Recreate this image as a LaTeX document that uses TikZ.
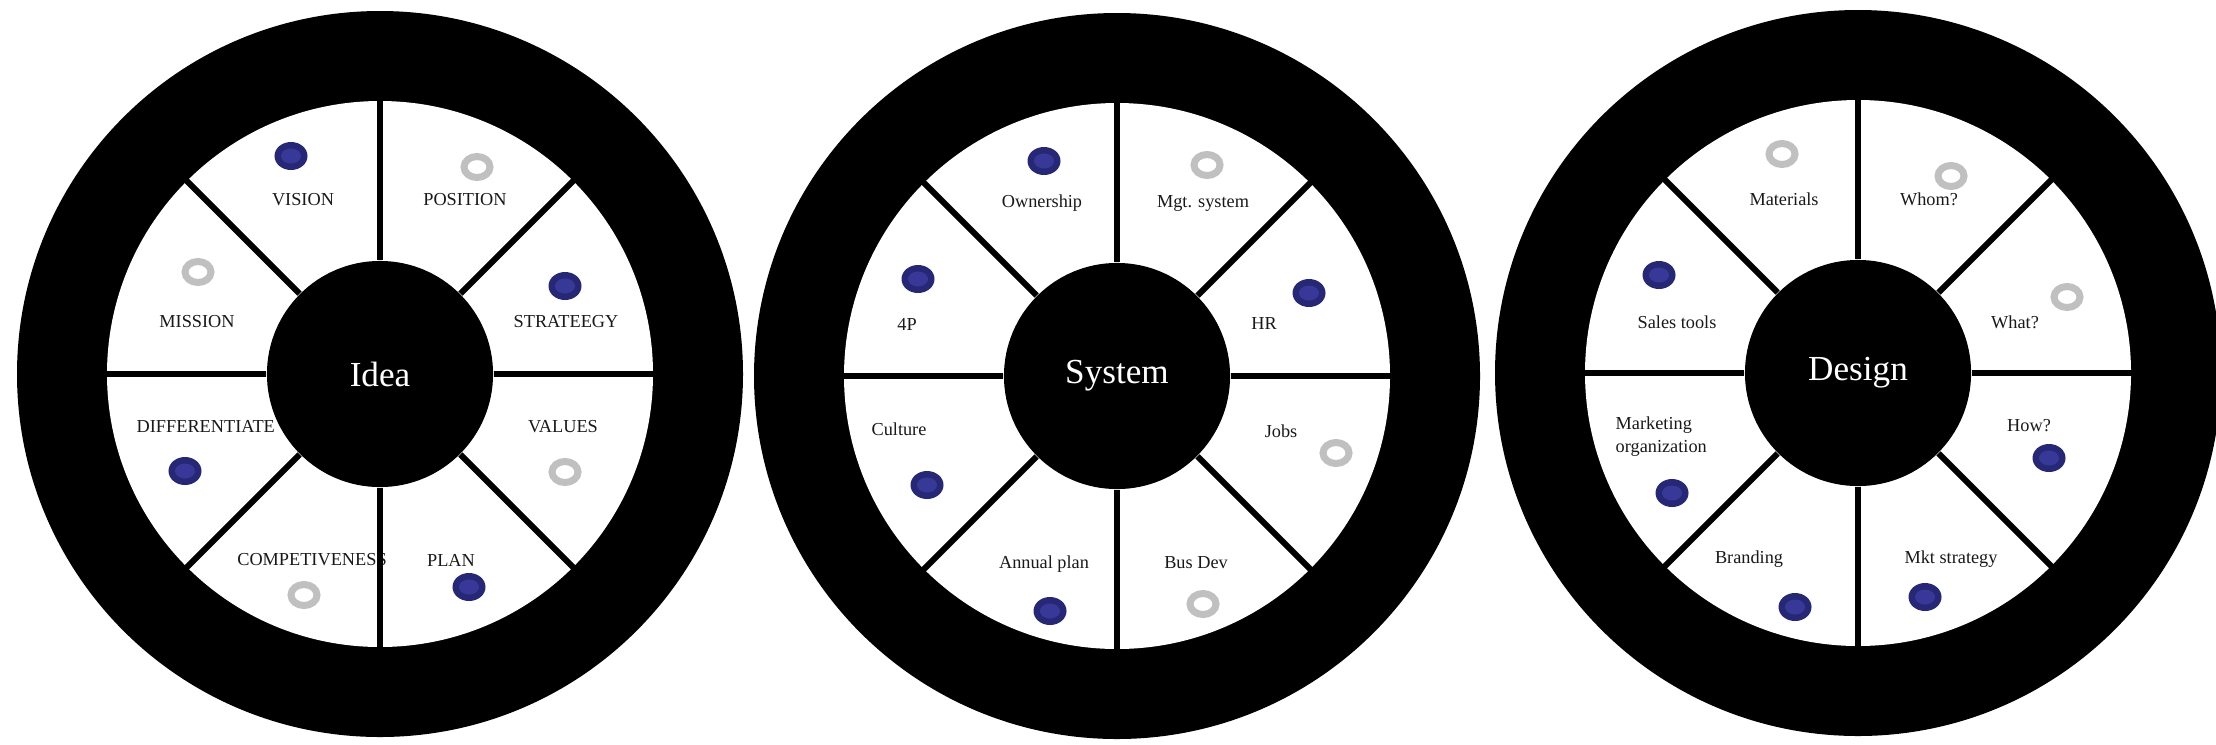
\documentclass[tikz,border=0pt]{standalone}
\usepackage{fontspec}
\setmainfont{Liberation Serif}
\usetikzlibrary{shapes.geometric}

\definecolor{dotrim}{RGB}{38,40,118}
\definecolor{dotcore}{RGB}{56,56,152}
\definecolor{ringgrey}{RGB}{192,192,192}
\definecolor{inkgrey}{RGB}{25,25,25}

\begin{document}
\begin{tikzpicture}[x=0.01cm, y=0.01cm]
    \tikzstyle{hub}=[circle,fill=black,text=white,minimum size=2.26cm,inner sep=0pt,font=\fontsize{10}{12}\selectfont]
    \tikzstyle{lbl}=[inner sep=0pt,text=inkgrey,font=\fontsize{5.2}{6.6}\selectfont]
    \tikzstyle{spoke}=[draw=black,line width=0.06cm]
    \tikzstyle{fulldot}=[ellipse,fill=dotrim,minimum width=0.33cm,minimum height=0.28cm,inner sep=0pt,
        path picture={\fill[dotcore] (path picture bounding box.center) ellipse [x radius=0.1cm, y radius=0.075cm];}]
    \tikzstyle{emptydot}=[ellipse,draw=ringgrey,fill=white,line width=0.07cm,minimum width=0.26cm,minimum height=0.21cm,inner sep=0pt]

    \useasboundingbox (0,0) rectangle (2216,744);
    \clip (0,0) rectangle (2216,744);

    % Idea wheel
    \coordinate (ideac) at (380,370);
    \fill[black] (ideac) circle [radius=363];
    \fill[white] (ideac) circle [radius=273];
    \node[lbl] (vision) at (303,544) {VISION};
    \node[fulldot] (visiondot) at (291,588) {};
    \node[lbl] (position) at (465,544) {POSITION};
    \node[emptydot] (positiondot) at (477,577) {};
    \node[lbl] (mission) at (197,422) {MISSION};
    \node[emptydot] (missiondot) at (198,472) {};
    \node[lbl] (strateegy) at (566,422) {STRATEEGY};
    \node[fulldot] (strateegydot) at (565,458) {};
    \node[lbl, anchor=west] (differentiate) at (136,318) {DIFFERENTIATE};
    \node[fulldot] (differentiatedot) at (185,273) {};
    \node[lbl] (values) at (563,317) {VALUES};
    \node[emptydot] (valuesdot) at (565,272) {};
    \node[lbl] (competiveness) at (312,184) {COMPETIVENESS};
    \node[emptydot] (competivenessdot) at (304,149) {};
    \node[lbl] (plan) at (451,184) {PLAN};
    \node[fulldot] (plandot) at (469,157) {};
    \node[hub] (idea) at (ideac) {Idea};
    \foreach \a in {0,45,...,315}
        \draw[spoke] (idea.\a) -- ++(\a:162);

    % System wheel
    \coordinate (systemc) at (1117,368);
    \fill[black] (systemc) circle [radius=363];
    \fill[white] (systemc) circle [radius=273];
    \node[lbl] (ownership) at (1042,541) {Ownership};
    \node[fulldot] (ownershipdot) at (1044,583) {};
    \node[lbl] (mgt) at (1203,541) {Mgt. system};
    \node[emptydot] (mgtdot) at (1207,579) {};
    \node[lbl] (fourp) at (907,420) {4P};
    \node[fulldot] (fourpdot) at (918,465) {};
    \node[lbl] (hr) at (1264,420) {HR};
    \node[fulldot] (hrdot) at (1309,451) {};
    \node[lbl] (culture) at (899,315) {Culture};
    \node[fulldot] (culturedot) at (927,259) {};
    \node[lbl] (jobs) at (1281,313) {Jobs};
    \node[emptydot] (jobsdot) at (1336,291) {};
    \node[lbl] (annual) at (1044,180) {Annual plan};
    \node[fulldot] (annualdot) at (1050,133) {};
    \node[lbl] (busdev) at (1196,181) {Bus Dev};
    \node[emptydot] (busdevdot) at (1203,140) {};
    \node[hub] (system) at (systemc) {System};
    \foreach \a in {0,45,...,315}
        \draw[spoke] (system.\a) -- ++(\a:162);

    % Design wheel
    \coordinate (designc) at (1858,371);
    \fill[black] (designc) circle [radius=363];
    \fill[white] (designc) circle [radius=273];
    \node[lbl] (materials) at (1784,545) {Materials};
    \node[emptydot] (materialsdot) at (1782,590) {};
    \node[lbl] (whom) at (1929,545) {Whom?};
    \node[emptydot] (whomdot) at (1951,568) {};
    \node[lbl] (salestools) at (1677,422) {Sales tools};
    \node[fulldot] (salestoolsdot) at (1659,469) {};
    \node[lbl] (what) at (2015,422) {What?};
    \node[emptydot] (whatdot) at (2067,447) {};
    \node[lbl, align=left, anchor=west] (mktorg) at (1615,307) {Marketing\\organization};
    \node[fulldot] (mktorgdot) at (1672,251) {};
    \node[lbl] (how) at (2029,318) {How?};
    \node[fulldot] (howdot) at (2049,286) {};
    \node[lbl] (branding) at (1749,185) {Branding};
    \node[fulldot] (brandingdot) at (1795,137) {};
    \node[lbl] (mktstrategy) at (1951,185) {Mkt strategy};
    \node[fulldot] (mktstrategydot) at (1925,147) {};
    \node[hub] (design) at (designc) {Design};
    \foreach \a in {0,45,...,315}
        \draw[spoke] (design.\a) -- ++(\a:162);
\end{tikzpicture}
\end{document}
